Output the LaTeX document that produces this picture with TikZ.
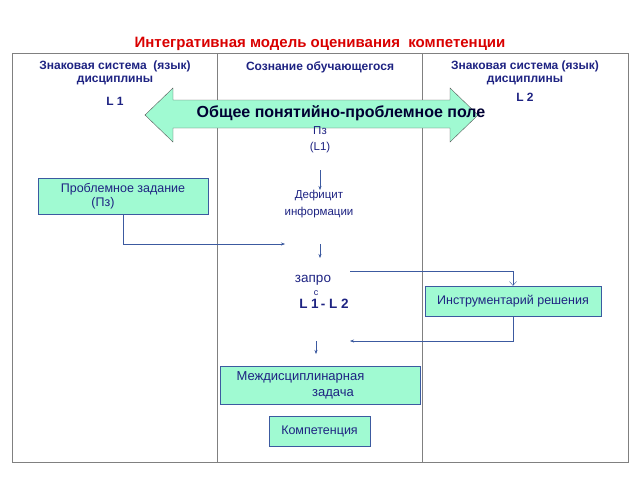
\documentclass[tikz,border=0pt]{standalone}
\usepackage{fontspec}
\setmainfont{Liberation Sans}
\usetikzlibrary{arrows.meta}
\definecolor{inkblue}{RGB}{30,35,130}
\definecolor{lineblue}{RGB}{60,90,160}
\definecolor{mint}{RGB}{160,250,210}
\tikzset{
  box/.style={draw=lineblue, fill=mint, text=inkblue, font=\fontsize{12.5}{14}\selectfont, align=center, inner sep=2pt},
  txt/.style={text=inkblue, font=\fontsize{11.5}{17}\selectfont, align=center},
  head/.style={text=inkblue, font=\bfseries\fontsize{12}{13.5}\selectfont, align=center},
  flow/.style={draw=lineblue, -{Stealth[length=4pt,width=3pt]}}
}
\begin{document}
\begin{tikzpicture}[x=1pt,y=-1pt]
  \useasboundingbox (0,0) rectangle (640,480);
  \node[text=red!85!black, font=\bfseries\fontsize{15}{16}\selectfont] (title) at (320,44) {Интегративная модель оценивания\ \ компетенции};

  % table frame
  \draw[gray] (12,53) rectangle (628,462);
  \draw[gray] (217,53) -- (217,462);
  \draw[gray] (422,53) -- (422,462);

  \node[head] (colA) at (115,73) {Знаковая система\ \ (язык)\\дисциплины};
  \node[head] (colAL) at (115,101) {L 1};
  \node[head] (colB) at (320,67) {Сознание обучающегося};
  \node[head] (colC) at (525,73) {Знаковая система (язык)\\дисциплины};
  \node[head] (colCL) at (525,97) {L 2};

  % common field
  \draw[gray!70!black, fill=mint] (145,115) -- (173,88) -- (173,100) -- (450,100) -- (450,88)
    -- (478,115) -- (450,142) -- (450,128) -- (173,128) -- (173,142) -- cycle;
  \node[font=\bfseries\fontsize{16}{17}\selectfont, text=black!80!blue] (field) at (341,113) {Общее понятийно-проблемное поле};

  \node[txt] (pz) at (320,131) {Пз};
  \node[txt] (lone) at (320,148) {(L1)};
  \node[txt] (deficit) at (319,204) {Дефицит\\информации};
  \node[font=\fontsize{13.5}{15}\selectfont, text=inkblue] (query) at (313,280) {запро};
  \node[font=\fontsize{9}{10}\selectfont, text=inkblue] (qc) at (316,293) {с};
  \node[font=\bfseries\fontsize{13.5}{15}\selectfont, text=inkblue] (link) at (324,304) {L 1\,- L 2};

  \node[box, minimum width=170, minimum height=36] (task) at (123,196) {Проблемное задание\\(Пз)\hspace*{3.2em}};
  \node[box, minimum width=176, minimum height=30] (tools) at (513,301) {Инструментарий решения};
  \node[box, minimum width=200, minimum height=38, font=\fontsize{13}{16}\selectfont] (inter) at (320,385) {Междисциплинарная\hspace*{3em}\\\hspace*{2em}задача};
  \node[box, minimum width=101, minimum height=30] (comp) at (319.5,431) {Компетенция};

  \coordinate (a1) at (320,170);
  \coordinate (a2) at (320,190);
  \coordinate (b1) at (285,244);
  \coordinate (c1) at (320,244);
  \coordinate (c2) at (320,258);
  \coordinate (d1) at (350,271);
  \coordinate (e1) at (350,341);
  \coordinate (f1) at (316,341);
  \coordinate (f2) at (316,354);

  \draw[flow] (a1) -- (a2);
  \draw[flow] (task.south) |- (b1);
  \draw[flow] (c1) -- (c2);
  \draw[draw=lineblue, -{Straight Barb[length=4pt,width=7pt]}] (d1) -| (tools.north);
  \draw[flow] (tools.south) |- (e1);
  \draw[flow] (f1) -- (f2);
\end{tikzpicture}
\end{document}
